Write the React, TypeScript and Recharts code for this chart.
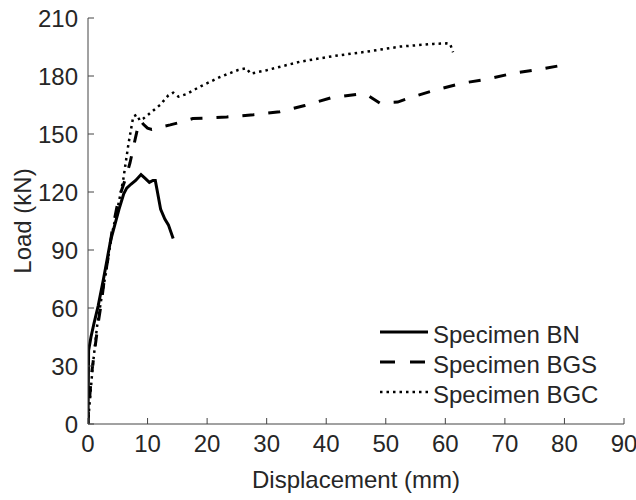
import React from 'react';
import { LineChart, Line, XAxis, YAxis } from 'recharts';

// Load-displacement readings per specimen
const bnDisp = [0, 0.1, 0.5, 1.0, 1.7, 2.6, 3.2, 3.8, 4.5, 5.2, 6.0, 6.5, 7.2, 8.0, 8.9, 9.6, 10.3, 10.9, 11.3, 11.6, 12.2, 12.9, 13.5, 14.3];
const bnLoad = [0, 38, 45, 52, 61, 75, 85, 95, 103, 111, 119, 122, 124, 126, 129, 127, 125, 126, 126, 121, 111, 106, 103, 96];

const bgsDisp = [0, 0.05, 0.6, 1.2, 1.7, 2.3, 2.7, 3.5, 4.0, 5.1, 6.2, 7.05, 7.9, 8.4, 8.8, 9.3, 10.0, 10.7, 12.0, 13.8, 15.4, 17.6, 20, 23.3, 27.8, 32.2, 36.4, 40.9, 45.1, 46.8, 49.0, 52, 54.1, 58.4, 62.7, 67.2, 71.4, 75.9, 79.5, 80];
const bgsLoad = [0, 5, 26, 40, 52, 64, 74, 88, 99, 116, 126, 135, 147, 154, 157, 155, 153, 152.4, 153.5, 154.7, 156, 158, 158.3, 158.8, 160, 161.5, 164.7, 168.8, 170.5, 170.3, 166, 166.5, 168.8, 172.8, 176.2, 178.5, 181.4, 183.5, 185.5, 186.6];

const bgcDisp = [0, 0.2, 0.8, 1.5, 2.3, 3.0, 4.0, 5.0, 5.9, 6.8, 7.6, 8.2, 8.7, 9.3, 10.1, 12.1, 13.5, 14.3, 15.2, 16.6, 18.8, 22.2, 25.2, 26.6, 27.3, 30, 35.6, 41.2, 46.8, 52.4, 58, 60.2, 60.8, 61.3];
const bgcLoad = [0, 8, 30, 50, 66, 78, 98, 112, 126, 145, 159, 160, 157, 158, 160, 165, 170, 171.4, 169.3, 170.7, 174.5, 179.5, 183.1, 184, 181.2, 183, 187.4, 190.3, 192.6, 195.2, 196.6, 196.9, 196.6, 192.3];

const xTicks = [0, 10, 20, 30, 40, 50, 60, 70, 80, 90];
const yTicks = [0, 30, 60, 90, 120, 150, 180, 210];

const zip = (xs: number[], ys: number[]) => xs.map((x, i) => ({ x, y: ys[i] }));

const series = [
  { name: 'Specimen BN', data: zip(bnDisp, bnLoad), dash: undefined as string | undefined, width: 3, legendDash: undefined as string | undefined },
  { name: 'Specimen BGS', data: zip(bgsDisp, bgsLoad), dash: '12 14', width: 3, legendDash: '15 15' },
  { name: 'Specimen BGC', data: zip(bgcDisp, bgcLoad), dash: '2.5 4', width: 2.5, legendDash: '2.5 4' },
];

const FONT = '"Liberation Sans", Arial, sans-serif';
const TEXT = '#262626';
const FS = 24;
const TICK_LEN = 6;

// ticks drawn inward, matlab style
const BottomTick = (props: any) => {
  const { x, y, payload } = props;
  return (
    <g>
      <line x1={x} x2={x} y1={y} y2={y - TICK_LEN} stroke="#444" />
      <text x={x} y={y + 19} textAnchor="middle" dominantBaseline="central" fill={TEXT} fontSize={FS} fontFamily={FONT}>
        {payload.value}
      </text>
    </g>
  );
};

const LeftTick = (props: any) => {
  const { x, y, payload } = props;
  return (
    <g>
      <line x1={x} x2={x + TICK_LEN} y1={y} y2={y} stroke="#444" />
      <text x={x - 10} y={y} textAnchor="end" dominantBaseline="central" fill={TEXT} fontSize={FS} fontFamily={FONT}>
        {payload.value}
      </text>
    </g>
  );
};

const TopTick = (props: any) => (
  <line x1={props.x} x2={props.x} y1={props.y} y2={props.y + TICK_LEN} stroke="#555" />
);

const RightTick = (props: any) => (
  <line x1={props.x} x2={props.x - TICK_LEN} y1={props.y} y2={props.y} stroke="#555" />
);

const YLabel = (props: any) => {
  const { viewBox } = props;
  const cx = 22;
  const cy = viewBox.y + viewBox.height / 2;
  return (
    <text x={cx} y={cy} transform={`rotate(-90, ${cx}, ${cy})`} textAnchor="middle" dominantBaseline="central" fill={TEXT} fontSize={FS} fontFamily={FONT}>
      Load (kN)
    </text>
  );
};

// legend sits inside the plot box, lower right
const LegendBox = () => (
  <svg width={250} height={100} style={{ position: 'absolute', left: 378, top: 314 }}>
    {series.map((s, i) => {
      const y = 18 + i * 30;
      return (
        <g key={s.name}>
          <line x1={2} x2={50} y1={y} y2={y} stroke="#000" strokeWidth={s.width} strokeDasharray={s.legendDash} />
          <text x={55} y={y + 2} dominantBaseline="central" fill={TEXT} fontSize={FS} fontFamily={FONT}>
            {s.name}
          </text>
        </g>
      );
    })}
  </svg>
);

export default function App() {
  return (
    <div style={{ position: 'absolute', left: 0, top: 0, width: 636, height: 500, background: '#fff' }}>
      <LineChart width={636} height={500} margin={{ top: 18, right: 12, bottom: 0, left: 0 }}>
        <XAxis
          type="number"
          dataKey="x"
          domain={[0, 90]}
          ticks={xTicks}
          allowDataOverflow
          height={76}
          tickSize={0}
          tickMargin={0}
          tickLine={false}
          tick={<BottomTick />}
          axisLine={{ stroke: '#444' }}
          label={{ value: 'Displacement (mm)', position: 'insideBottom', offset: 12, fill: TEXT, fontSize: FS, fontFamily: FONT }}
        />
        <XAxis
          xAxisId="top"
          orientation="top"
          type="number"
          dataKey="x"
          domain={[0, 90]}
          ticks={xTicks}
          height={0}
          tickSize={0}
          tickMargin={0}
          tickLine={false}
          tick={<TopTick />}
          axisLine={{ stroke: '#666' }}
        />
        <YAxis
          type="number"
          domain={[0, 210]}
          ticks={yTicks}
          width={88}
          tickSize={0}
          tickMargin={0}
          tickLine={false}
          tick={<LeftTick />}
          axisLine={{ stroke: '#444' }}
          label={<YLabel />}
        />
        <YAxis
          yAxisId="right"
          orientation="right"
          type="number"
          domain={[0, 210]}
          ticks={yTicks}
          width={0}
          tickSize={0}
          tickMargin={0}
          tickLine={false}
          tick={<RightTick />}
          axisLine={{ stroke: '#666' }}
        />
        {series.map((s) => (
          <Line
            key={s.name}
            data={s.data}
            dataKey="y"
            name={s.name}
            type="linear"
            stroke="#000"
            strokeWidth={s.width}
            strokeDasharray={s.dash}
            dot={false}
            isAnimationActive={false}
          />
        ))}
      </LineChart>
      <LegendBox />
    </div>
  );
}
